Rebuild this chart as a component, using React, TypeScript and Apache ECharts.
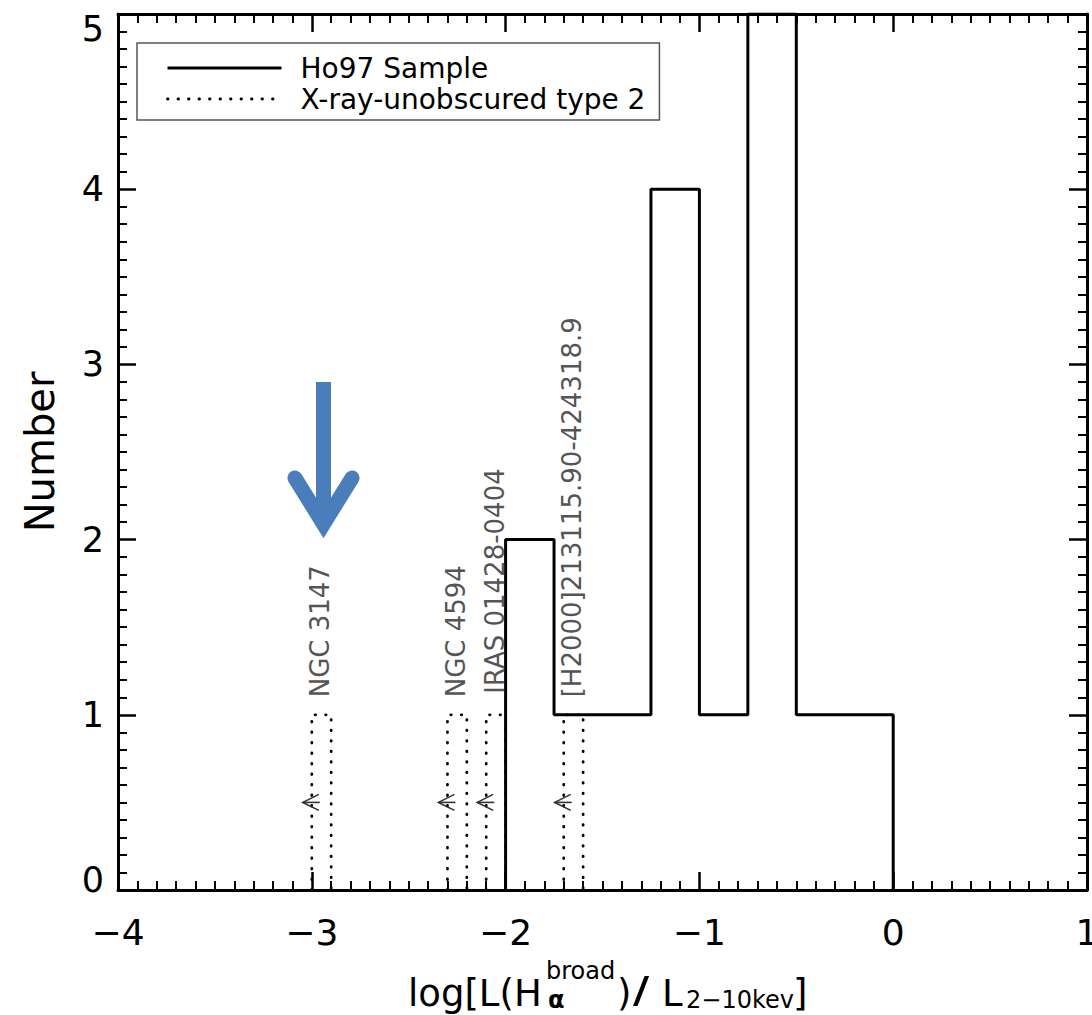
import React, { useEffect, useRef } from 'react';
import * as echarts from 'echarts';

// ---- data ----
const xMin = -4;
const xMax = 1;
const xInterval = 1;
const yMin = 0;
const yMax = 5;
const yInterval = 1;

const seriesNames = ['Ho97 Sample', 'X-ray-unobscured type 2'];

// Ho97 histogram (bin edges and counts)
const hoBinEdges = [-2, -1.75, -1.5, -1.25, -1, -0.75, -0.5, -0.25, 0];
const hoCounts = [2, 1, 1, 4, 1, 5, 1, 1];

// X-ray-unobscured type 2 objects (upper limits)
const type2Names = ['NGC 3147', 'NGC 4594', 'IRAS 01428-0404', '[H2000]213115.90-424318.9'];
const type2Left = [-3.0, -2.3, -2.1, -1.7];
const type2Right = [-2.9, -2.2, -2.0, -1.6];
const type2Counts = [1, 1, 1, 1];
const limitArrowY = [0.5, 0.5, 0.5, 0.5];
const labelStartY = [1.1, 1.1, 1.12, 1.1];

function histOutline(edges: number[], counts: number[]) {
  const pts: number[][] = [[edges[0], 0]];
  counts.forEach((c, i) => {
    pts.push([edges[i], c], [edges[i + 1], c]);
  });
  pts.push([edges[edges.length - 1], 0]);
  return pts;
}

const FONT = 'DejaVu Sans';
const BLUE = '#4a7ebb';

export default function App() {
  const ref = useRef<HTMLDivElement>(null);
  useEffect(() => {
    if (!ref.current) return;
    const chart = echarts.init(ref.current, undefined, { renderer: 'svg' });

    const axisCommon: any = {
      type: 'value',
      axisLine: { show: true, onZero: false, lineStyle: { color: '#000', width: 3 } },
      axisTick: { show: true, inside: true, length: 18, lineStyle: { color: '#000', width: 2.5 } },
      minorTick: { show: true, splitNumber: 10, length: 9, lineStyle: { color: '#000', width: 2 } },
      splitLine: { show: false },
      minorSplitLine: { show: false },
    };

    const dottedStyle = { color: '#000', width: 2.8, type: [0.5, 10], cap: 'round' };

    const type2Series = type2Left.map((l, i) => ({
      name: seriesNames[1],
      type: 'line',
      data: [
        [l, 0],
        [l, type2Counts[i]],
        [type2Right[i], type2Counts[i]],
        [type2Right[i], 0],
      ],
      symbol: 'none',
      showSymbol: false,
      lineStyle: dottedStyle,
      z: 2,
      silent: true,
    }));

    const labelRich = {
      n: { fontSize: 35, fontFamily: FONT, color: '#000' },
      lo: { fontSize: 35, fontFamily: FONT, color: '#000', padding: [0, 0, 20, 0] },
      hi: { fontSize: 35, fontFamily: FONT, color: '#000', padding: [29, 0, 0, 0] },
    };

    const mid = { textVerticalAlign: 'middle', verticalAlign: 'middle' };
    const bot = { textVerticalAlign: 'bottom', verticalAlign: 'bottom' };

    const option: any = {
      animation: false,
      backgroundColor: '#fff',
      grid: {
        left: 118,
        top: 14,
        width: 969,
        height: 876,
        containLabel: false,
        outerBoundsMode: 'none',
      },
      xAxis: [
        {
          ...axisCommon,
          position: 'bottom',
          min: xMin,
          max: xMax,
          interval: xInterval,
          axisLabel: {
            show: true,
            fontSize: 36,
            fontFamily: FONT,
            color: '#000',
            margin: 24,
            formatter: (v: number) => String(v).replace('-', '\u2212'),
          },
        },
        {
          ...axisCommon,
          position: 'top',
          min: xMin,
          max: xMax,
          interval: xInterval,
          axisLabel: { show: false },
        },
      ],
      yAxis: [
        {
          ...axisCommon,
          position: 'left',
          min: yMin,
          max: yMax,
          interval: yInterval,
          axisLabel: {
            show: true,
            margin: 14,
            formatter: (v: number) =>
              v === yMin ? '{lo|' + v + '}' : v === yMax ? '{hi|' + v + '}' : '{n|' + v + '}',
            rich: labelRich,
          },
          name: 'Number',
          nameLocation: 'middle',
          nameRotate: 90,
          nameGap: 58,
          nameTextStyle: { fontSize: 40, fontFamily: FONT, color: '#000' },
        },
        {
          ...axisCommon,
          position: 'right',
          min: yMin,
          max: yMax,
          interval: yInterval,
          axisLabel: { show: false },
        },
      ],
      legend: {
        show: true,
        orient: 'vertical',
        left: 137,
        top: 43,
        padding: [11, 14, 7, 29],
        itemGap: 3,
        itemWidth: 114,
        itemHeight: 20,
        borderColor: '#555',
        borderWidth: 1.5,
        backgroundColor: '#fff',
        selectedMode: false,
        itemStyle: { opacity: 0 },
        textStyle: {
          fontSize: 28,
          lineHeight: 20,
          fontFamily: FONT,
          color: '#000',
          padding: [0, 0, 0, 14],
        },
        data: [
          { name: seriesNames[0], lineStyle: { width: 3 } },
          { name: seriesNames[1], lineStyle: { width: 2.8 } },
        ],
      },
      series: [
        {
          name: seriesNames[0],
          type: 'line',
          data: histOutline(hoBinEdges, hoCounts),
          symbol: 'none',
          showSymbol: false,
          lineStyle: { color: '#000', width: 3 },
          z: 3,
          silent: true,
        },
        ...type2Series,
        {
          type: 'custom',
          silent: true,
          z: 4,
          data: type2Left.map((x, i) => [x, limitArrowY[i]]),
          renderItem: (params: any, api: any) => {
            const p = api.coord([api.value(0), api.value(1)]);
            const tipX = p[0] - 9;
            const y = p[1];
            return {
              type: 'group',
              children: [
                {
                  type: 'polyline',
                  shape: { points: [[tipX + 16, y - 8], [tipX, y], [tipX + 16, y + 8]] },
                  style: { stroke: '#333', lineWidth: 1.6, fill: 'none' },
                },
                {
                  type: 'line',
                  shape: { x1: tipX, y1: y, x2: tipX + 17, y2: y },
                  style: { stroke: '#333', lineWidth: 1.6 },
                },
              ],
            };
          },
        },
        {
          type: 'custom',
          silent: true,
          z: 4,
          data: type2Left.map((l, i) => [(l + type2Right[i]) / 2, labelStartY[i]]),
          renderItem: (params: any, api: any) => {
            const p = api.coord([api.value(0), api.value(1)]);
            return {
              type: 'text',
              x: p[0] - 1,
              y: p[1],
              rotation: Math.PI / 2,
              style: {
                text: type2Names[params.dataIndex],
                fontSize: 26,
                fontFamily: FONT,
                fill: '#555',
                align: 'left',
                verticalAlign: 'middle',
              },
            };
          },
        },
      ],
      graphic: [
        // blue annotation arrow
        {
          type: 'rect',
          shape: { x: 316, y: 382, width: 15, height: 128 },
          style: { fill: BLUE },
          z: 10,
        },
        {
          type: 'polyline',
          shape: { points: [[295, 478], [323.5, 524], [352, 478]] },
          style: { stroke: BLUE, lineWidth: 15, lineCap: 'round', lineJoin: 'miter', fill: 'none' },
          z: 10,
        },
        // x-axis title pieces
        {
          type: 'text', x: 408, y: 993,
          style: { text: 'log[L(H', font: '37px "DejaVu Sans"', fill: '#000', ...mid },
        },
        {
          type: 'text', x: 546, y: 971,
          style: { text: 'broad', font: '24px "DejaVu Sans"', fill: '#000', ...mid },
        },
        {
          type: 'text', x: 548, y: 1012,
          style: { text: 'α', font: 'bold 24px "DejaVu Sans"', fill: '#000', ...bot },
        },
        {
          type: 'text', x: 617, y: 993,
          style: { text: ')', font: '37px "DejaVu Sans"', fill: '#000', ...mid },
        },
        {
          type: 'text', x: 633, y: 992, scaleX: 1.45,
          style: { text: '/', font: '40px "Liberation Sans"', fill: '#000', ...mid },
        },
        {
          type: 'text', x: 662, y: 993,
          style: { text: 'L', font: '37px "DejaVu Sans"', fill: '#000', ...mid },
        },
        {
          type: 'text', x: 686, y: 1012,
          style: { text: '2\u221210kev', font: '24px "DejaVu Sans"', fill: '#000', ...bot },
        },
        {
          type: 'text', x: 793, y: 993,
          style: { text: ']', font: '37px "DejaVu Sans"', fill: '#000', ...mid },
        },
      ],
    };

    chart.setOption(option);
    return () => chart.dispose();
  }, []);

  return (
    <div
      ref={ref}
      style={{ position: 'fixed', left: 0, top: 0, width: 1092, height: 1015, background: '#fff' }}
    />
  );
}
